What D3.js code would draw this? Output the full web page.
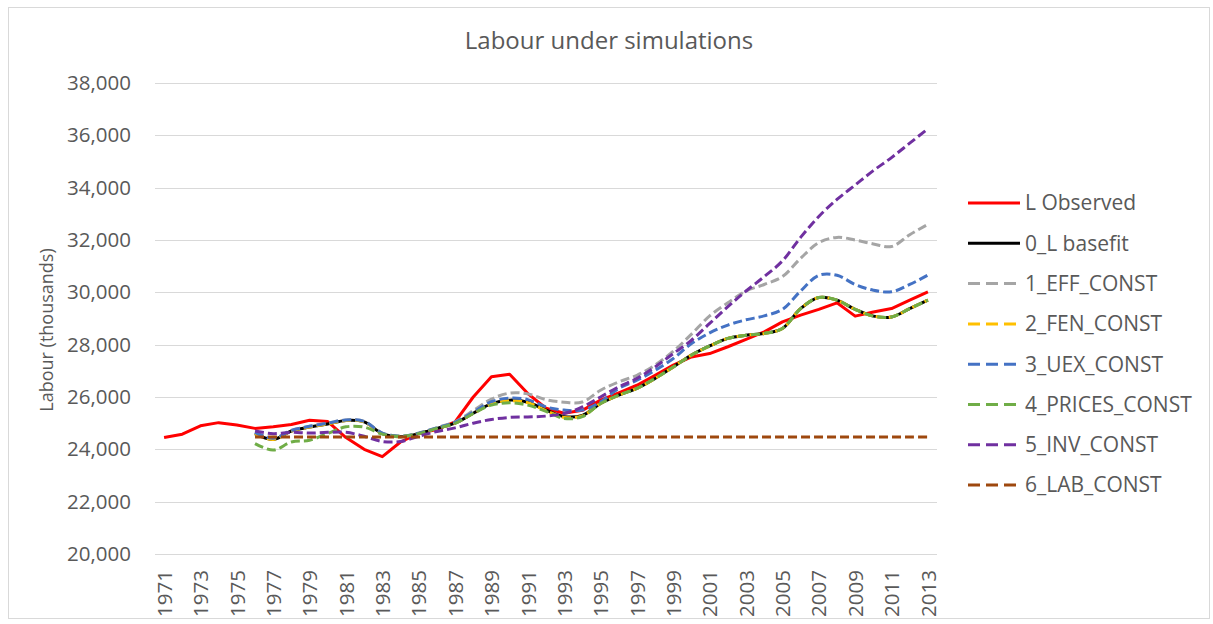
<html>
<head>
<script src="https://d3js.org/d3.v7.min.js"></script>
<style>
body { margin: 0; background: #fff; }
text { font-family: "Open Sans", sans-serif; fill: #595959; }
</style>
</head>
<body>
<script>
// categories
var years = [1971,1972,1973,1974,1975,1976,1977,1978,1979,1980,1981,1982,1983,1984,1985,1986,1987,1988,1989,1990,
  1991,1992,1993,1994,1995,1996,1997,1998,1999,2000,2001,2002,2003,2004,2005,2006,2007,2008,2009,2010,2011,2012,2013];
var simYears = years.slice(5); // simulations start in 1976
var tickYears = [1971,1973,1975,1977,1979,1981,1983,1985,1987,1989,1991,1993,1995,1997,1999,2001,2003,2005,2007,2009,2011,2013];
var yTicks = [20000,22000,24000,26000,28000,30000,32000,34000,36000,38000];

// series (thousands)
var lObserved = [24450,24580,24900,25020,24930,24800,24860,24950,25110,25060,
  24450,24000,23720,24280,24610,24760,25050,26000,26770,26870,
  26130,25570,25380,25490,25880,26160,26450,26830,27220,27530,
  27660,27920,28200,28490,28870,29130,29350,29600,29090,29250,
  29380,29700,30020];
var baseFit = [24600,24380,24700,24850,24970,25100,25050,24600,24480,24600,
  24800,25000,25380,25750,25880,25800,25500,25250,25300,25750,
  26070,26330,26710,27150,27600,27950,28240,28360,28430,28620,
  29380,29800,29700,29350,29090,29060,29380,29700];
var effConst = [24650,24420,24720,24880,25000,25120,25070,24620,24500,24620,
  24830,25050,25480,25920,26150,26120,25900,25800,25810,26260,
  26580,26830,27220,27750,28400,29100,29600,30050,30300,30600,
  31300,31900,32100,32000,31850,31750,32200,32600];
var fenConst = [24600,24380,24700,24850,24970,25100,25050,24600,24480,24600,
  24800,25000,25380,25740,25860,25780,25480,25220,25280,25750,
  26070,26330,26710,27150,27600,27950,28240,28360,28430,28620,
  29380,29800,29700,29350,29090,29060,29380,29700];
var uexConst = [24650,24420,24720,24880,25000,25120,25070,24620,24500,24620,
  24820,25030,25420,25820,25960,25900,25620,25500,25500,25810,
  26330,26640,27020,27470,28040,28450,28750,28950,29100,29350,
  30050,30650,30650,30300,30080,30020,30300,30660];
var pricesConst = [24220,23970,24280,24350,24610,24860,24850,24580,24500,24600,
  24800,24990,25370,25690,25780,25690,25450,25180,25250,25750,
  26070,26330,26710,27150,27600,27950,28240,28360,28430,28620,
  29380,29800,29700,29350,29090,29060,29380,29700];
var invConst = [24700,24600,24650,24620,24650,24650,24500,24300,24300,24500,
  24680,24820,25000,25140,25220,25240,25270,25370,25620,26000,
  26390,26710,27150,27660,28170,28810,29450,30050,30600,31200,
  32100,32900,33550,34100,34650,35150,35700,36250];
var labConst = [24470,24470,24470,24470,24470,24470,24470,24470,24470,24470,
  24470,24470,24470,24470,24470,24470,24470,24470,24470,24470,
  24470,24470,24470,24470,24470,24470,24470,24470,24470,24470,
  24470,24470,24470,24470,24470,24470,24470,24470];

var seriesNames = ["L Observed","0_L basefit","1_EFF_CONST","2_FEN_CONST","3_UEX_CONST","4_PRICES_CONST","5_INV_CONST","6_LAB_CONST"];
var seriesColors = ["#ff0000","#000000","#a5a5a5","#ffc000","#4472c4","#70ad47","#7030a0","#9e480e"];
var seriesDashed = [false,false,true,true,true,true,true,true];
var seriesValues = [lObserved,baseFit,effConst,fenConst,uexConst,pricesConst,invConst,labConst];

var W = 1213, H = 624;
var plotLeft = 155, plotRight = 937, plotTop = 83, plotBottom = 554;

var svg = d3.select("body").append("svg").attr("width", W).attr("height", H);

// chart border
svg.append("rect").attr("x", 8.5).attr("y", 7.5).attr("width", 1201).attr("height", 611)
  .attr("fill", "#fff").attr("stroke", "#d9d9d9");

var x = d3.scalePoint().domain(years).range([plotLeft, plotRight]).padding(0.5);
var y = d3.scaleLinear().domain([20000, 38000]).range([plotBottom, plotTop]);

// gridlines
svg.append("g").selectAll("line").data(yTicks).enter().append("line")
  .attr("x1", plotLeft).attr("x2", plotRight)
  .attr("y1", function(d){ return Math.round(y(d)) + 0.5; })
  .attr("y2", function(d){ return Math.round(y(d)) + 0.5; })
  .attr("stroke", "#d9d9d9").attr("stroke-width", 1);

// y axis
var yAxis = d3.axisLeft(y).tickValues(yTicks).tickFormat(d3.format(",")).tickSize(0).tickPadding(24);
var yg = svg.append("g").attr("transform", "translate(" + plotLeft + ",0)").call(yAxis);
yg.select(".domain").remove();
yg.selectAll("text").attr("font-size", "20.5px").attr("font-family", "Open Sans").style("fill", "#595959");

// x axis
var xAxis = d3.axisBottom(x).tickValues(tickYears).tickSize(0).tickPadding(0);
var xg = svg.append("g").attr("transform", "translate(0," + plotBottom + ")").call(xAxis);
xg.select(".domain").remove();
xg.selectAll("text")
  .attr("font-size", "20.5px").attr("font-family", "Open Sans").style("fill", "#595959")
  .attr("text-anchor", "end")
  .attr("transform", "rotate(-90)")
  .attr("x", -16).attr("y", 0).attr("dy", "0.35em");

// title and axis label
svg.append("text").attr("x", 609).attr("y", 49).attr("text-anchor", "middle")
  .attr("font-size", "24px").text("Labour under simulations");
svg.append("text").attr("transform", "translate(47,330) rotate(-90)")
  .attr("text-anchor", "middle").attr("dy", "0.35em").attr("font-size", "18px").text("Labour (thousands)");

// lines: observed drawn straight, simulations smoothed
var lineStraight = d3.line()
  .x(function(d){ return x(d[0]); })
  .y(function(d){ return y(d[1]); });
var lineSmooth = d3.line().curve(d3.curveCatmullRom)
  .x(function(d){ return x(d[0]); })
  .y(function(d){ return y(d[1]); });

seriesValues.forEach(function(vals, i) {
  var yrs = vals.length === years.length ? years : simYears;
  var pts = vals.map(function(v, j){ return [yrs[j], v]; });
  svg.append("path").datum(pts)
    .attr("d", i === 0 ? lineStraight : lineSmooth)
    .attr("fill", "none")
    .attr("stroke", seriesColors[i])
    .attr("stroke-width", 3)
    .attr("stroke-linejoin", "round")
    .attr("stroke-dasharray", seriesDashed[i] ? "9,4" : null);
});

// legend
var lg = svg.append("g").attr("transform", "translate(968,203)");
seriesNames.forEach(function(name, i) {
  var row = lg.append("g").attr("transform", "translate(0," + (i * 40.3) + ")");
  row.append("line").attr("x1", 0).attr("x2", 52).attr("y1", 0).attr("y2", 0)
    .attr("stroke", seriesColors[i]).attr("stroke-width", 3)
    .attr("stroke-dasharray", seriesDashed[i] ? "12,6" : null);
  row.append("text").attr("x", 57).attr("y", 0).attr("dy", "0.35em")
    .attr("font-size", "21px").text(name);
});
</script>
</body>
</html>
